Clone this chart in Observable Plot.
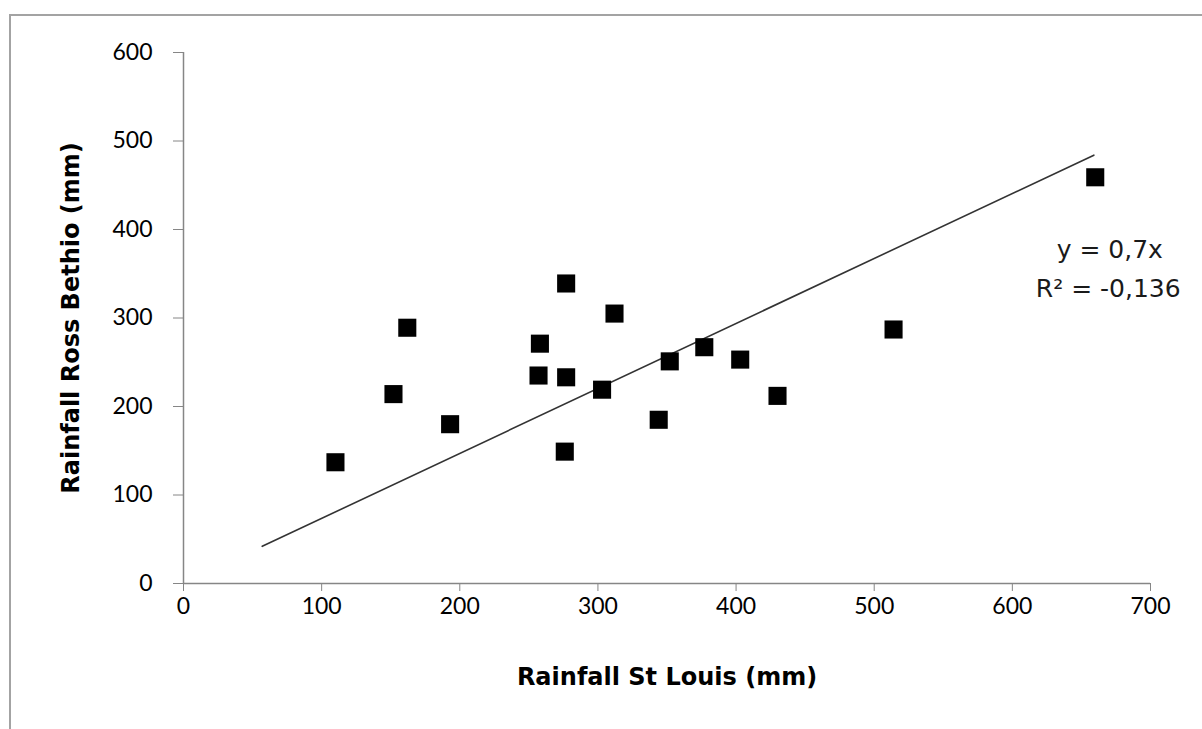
<!DOCTYPE html>
<html><head><meta charset="utf-8">
<script src="https://cdn.jsdelivr.net/npm/d3@7"></script>
<script src="https://cdn.jsdelivr.net/npm/@observablehq/plot@0.6"></script>
<style>
body{margin:0;background:#fff;}
#wrap{position:relative;width:1202px;height:729px;overflow:hidden;}
#frame{position:absolute;left:9px;top:14px;width:1250px;height:800px;border:2px solid #a3a3a3;box-sizing:border-box;pointer-events:none}
#wrap svg{position:absolute;left:0;top:0}
svg [aria-label="x-axis tick"], svg [aria-label="y-axis tick"]{stroke:#868686}
svg [aria-label="x-axis label"], svg [aria-label="y-axis label"],
svg [aria-label="x-axis label"] text, svg [aria-label="y-axis label"] text{font-weight:bold;font-size:24px;font-family:'DejaVu Sans',sans-serif}
</style></head><body><div id="wrap"><div id="frame"></div></div>
<script>
// Data
const stLouis    = [110, 152, 162, 193, 258, 257, 277, 277, 276, 312, 303, 352, 344, 377, 403, 430, 514, 660];
const rossBethio = [137, 214, 289, 180, 271, 235, 339, 233, 149, 305, 219, 251, 185, 267, 253, 212, 287, 459];
const trendX = [57, 659];
const trendY = [42, 484];
const xTicks = [0, 100, 200, 300, 400, 500, 600, 700];
const yTicks = [0, 100, 200, 300, 400, 500, 600];
const annText = ["y = 0,7x", "R² = -0,136"];
const annX = [670.5, 669.4];
const annY = [377, 333];
const xLabel = "Rainfall St Louis (mm)";
const yLabel = "Rainfall Ross Bethio (mm)";

// pick a condensed face for the tick numbers if it is installed
function hasFont(name) {
  const c = document.createElement("canvas").getContext("2d");
  c.font = "40px monospace"; const a = c.measureText("0123456789 Rainfall").width;
  c.font = `40px '${name}', monospace`; const b = c.measureText("0123456789 Rainfall").width;
  return Math.abs(a - b) > 0.5;
}
const narrow = hasFont("Liberation Sans Narrow");
const tickFont = narrow ? "'Liberation Sans Narrow'" : "Lato";
const tickSize = narrow ? 25 : 23;

const points = stLouis.map((x, i) => ({x, y: rossBethio[i]}));
const trend = trendX.map((x, i) => ({x, y: trendY[i]}));
const ann = annText.map((t, i) => ({t, x: annX[i], y: annY[i]}));

const chart = Plot.plot({
  width: 1202, height: 729,
  marginLeft: 183, marginRight: 52, marginTop: 52, marginBottom: 146,
  style: {fontFamily: tickFont + ", sans-serif", fontSize: tickSize + "px", color: "#000", background: "transparent"},
  x: {domain: [0, 700]},
  y: {domain: [0, 600]},
  marks: [
    Plot.ruleY([0], {stroke: "#868686", strokeWidth: 1.5}),
    Plot.ruleX([0], {stroke: "#868686", strokeWidth: 1.5}),
    Plot.axisX({ticks: xTicks, tickSize: 8, tickPadding: 6, tickFormat: d => String(d), fontSize: tickSize, fill: "#000",
      label: xLabel, labelAnchor: "center", labelOffset: 101, labelArrow: "none"}),
    Plot.axisY({ticks: yTicks, tickSize: 10, tickPadding: 21, tickFormat: d => String(d), fontSize: tickSize, fill: "#000",
      label: yLabel, labelAnchor: "center", labelOffset: 122, labelArrow: "none"}),
    Plot.line(trend, {x: "x", y: "y", stroke: "#333", strokeWidth: 1.6}),
    Plot.dot(points, {x: "x", y: "y", symbol: "square", r: 10.2, fill: "#000", stroke: "none"}),
    Plot.text(ann, {x: "x", y: "y", text: "t", fontSize: 25, fill: "#1a1a1a", fontFamily: "'DejaVu Sans', sans-serif"})
  ]
});
document.getElementById("wrap").appendChild(chart);
</script>
</body></html>
